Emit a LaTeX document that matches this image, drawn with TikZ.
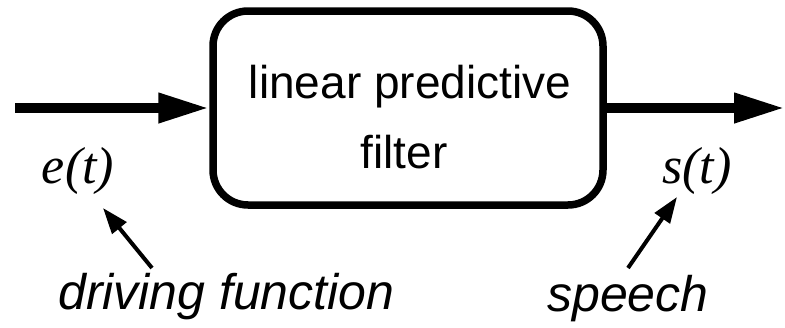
\documentclass[tikz,border=0pt]{standalone}
\usepackage{fontspec}
\setmainfont{Liberation Serif}
\setsansfont{Liberation Sans}
\usetikzlibrary{arrows.meta}
\begin{document}
\begin{tikzpicture}[x=1pt,y=-1pt,
  boxstyle/.style={draw, line width=7.5pt, rounded corners=35pt, minimum width=390pt, minimum height=194pt, inner sep=0pt},
  mainarrow/.style={line width=10pt, -{Triangle[length=51pt,width=28pt]}},
  ptrarrow/.style={line width=4pt, -{Triangle[length=26pt,width=18pt]}},
  boxtext/.style={font=\sffamily\fontsize{46}{50}\selectfont, anchor=base, inner sep=0pt},
  sig/.style={font=\itshape\fontsize{52}{56}\selectfont, anchor=base, inner sep=0pt},
  desc/.style={font=\sffamily\itshape\fontsize{50}{54}\selectfont, anchor=base west, inner sep=0pt}]
\useasboundingbox (0,0) rectangle (785,327);
\node[boxstyle] (box) at (408,108) {};
\node[boxtext] (t1) at (410,98) {linear predictive};
\node[boxtext] (t2) at (404,168) {filter};
\coordinate (lstart) at (15,108);
\coordinate (rend) at (785,108);
\draw[mainarrow] (lstart) -- (box.west);
\draw[mainarrow] (box.east) -- (rend);
\node[sig] (e) at (78,183) {e(t)};
\node[sig] (s) at (697,183) {s(t)};
\coordinate (etail) at (152,268);
\coordinate (etip) at (103,208);
\coordinate (stail) at (628,268);
\coordinate (stip) at (677,197);
\draw[ptrarrow] (etail) -- (etip);
\draw[ptrarrow] (stail) -- (stip);
\node[desc] (df) at (58,309) {driving function};
\node[desc] (sp) at (547,311) {speech};
\end{tikzpicture}
\end{document}
